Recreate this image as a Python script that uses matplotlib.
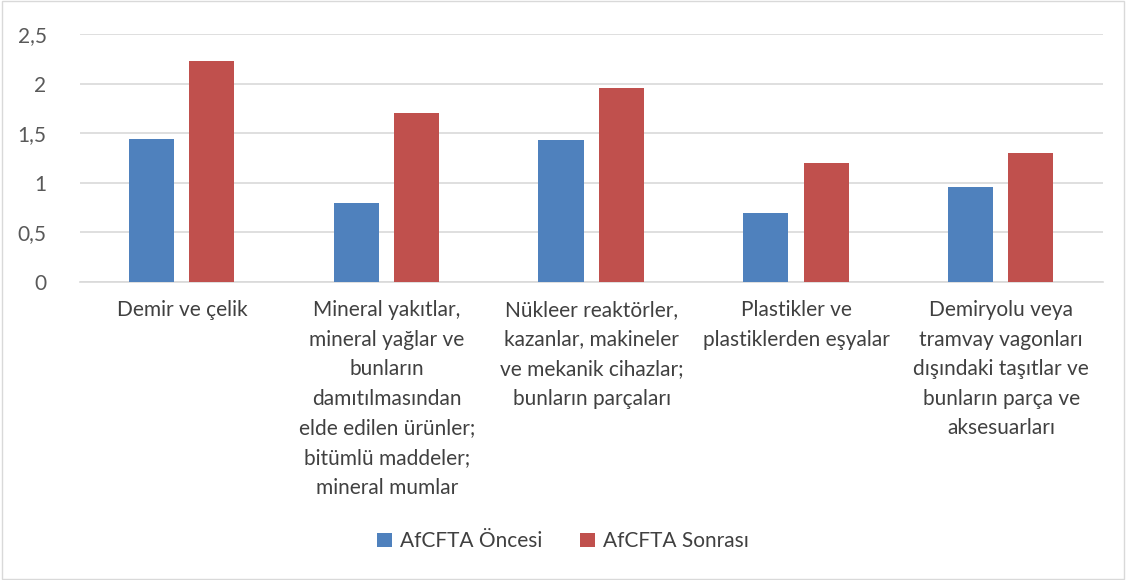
import matplotlib.pyplot as plt
import numpy as np
from matplotlib.patches import Rectangle

# ------------ dados -----------------
categorias = [
    "Demir ve çelik",
    "Mineral yakıtlar,\nmineral yağlar ve\nbunların\ndamıtılmasından\nelde edilen ürünler;\nbitümlü maddeler;\nmineral mumlar",
    "Nükleer reaktörler,\nkazanlar, makineler\nve mekanik cihazlar;\nbunların parçaları",
    "Plastikler ve\nplastiklerden eşyalar",
    "Demiryolu veya\ntramvay vagonları\ndışındaki taşıtlar ve\nbunların parça ve\naksesuarları",
]
oncesi = [1.44, 0.80, 1.43, 0.70, 0.96]
sonrasi = [2.23, 1.70, 1.96, 1.20, 1.30]
yticks = [0, 0.5, 1, 1.5, 2, 2.5]
ytick_labels = ["0", "0,5", "1", "1,5", "2", "2,5"]

# ------------ gráfico ---------------
plt.rcParams["font.family"] = ["Lato", "DejaVu Sans"]
fig = plt.figure(figsize=(11.26, 5.8), dpi=100)
ax = fig.add_axes([0.071, 0.514, 0.909, 0.427])

x = np.arange(len(categorias))
w = 0.22
ax.bar(x - 0.15, oncesi, w, color="#4f81bd", label="AfCFTA Öncesi", zorder=3)
ax.bar(x + 0.145, sonrasi, w, color="#c0504d", label="AfCFTA Sonrası", zorder=3)

ax.set_xlim(-0.5, len(categorias) - 0.5)
ax.set_ylim(0, 2.5)
ax.set_yticks(yticks)
ax.set_yticklabels(ytick_labels, fontsize=15, color="#595959")
ax.set_xticks(x)
ax.set_xticklabels(categorias, fontsize=15, color="#404040",
                   linespacing=1.6, va="top")
ax.tick_params(axis="both", length=0)
ax.tick_params(axis="x", pad=13)
ax.tick_params(axis="y", pad=24)
ax.grid(axis="y", color="#d9d9d9", linewidth=1.2, zorder=0)
for s in ["top", "right", "left"]:
    ax.spines[s].set_visible(False)
ax.spines["bottom"].set_color("#d9d9d9")
ax.spines["bottom"].set_linewidth(1.2)

fig.legend(loc="center", bbox_to_anchor=(0.5, 0.067), ncol=2, frameon=False,
           fontsize=15, handlelength=0.7, handleheight=0.7,
           columnspacing=1.8, handletextpad=0.4, labelcolor="#404040")

fig.patches.append(Rectangle((0.002, 0.002), 0.996, 0.996, transform=fig.transFigure,
                             fill=False, edgecolor="#d9d9d9", linewidth=1))

fig.savefig("out.png", dpi=100)
